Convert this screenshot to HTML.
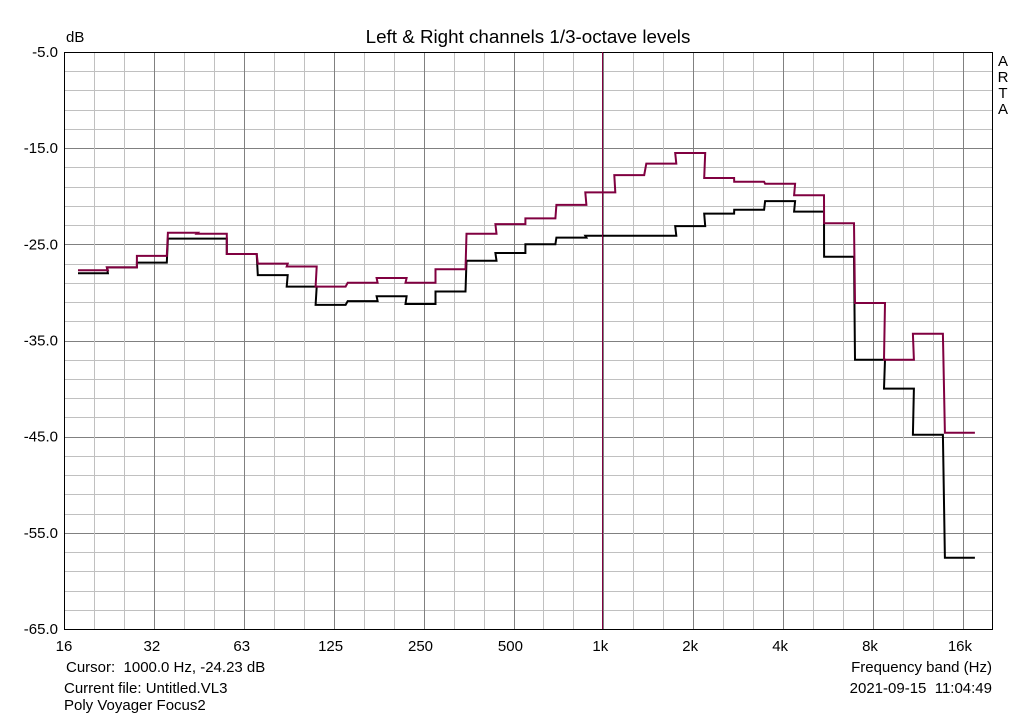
<!DOCTYPE html>
<html><head><meta charset="utf-8"><style>
body{margin:0;background:#fff;width:1024px;height:718px;overflow:hidden;font-family:"Liberation Sans",sans-serif}
svg text{font-family:"Liberation Sans",sans-serif;font-size:15px;fill:#000;white-space:pre}
</style></head><body>
<svg id="chart" width="1024" height="718" viewBox="0 0 1024 718">
<g id="grid"></g>
<g id="series"></g>
<rect x="64.5" y="52.5" width="928" height="577" fill="none" stroke="#000" stroke-width="1"/>
<line x1="602.5" y1="52" x2="602.5" y2="629" stroke="#800040" stroke-width="1"/>
<g id="labels"></g>
<text x="66" y="42">dB</text>
<text x="528" y="43" text-anchor="middle" style="font-size:18.8px">Left &amp; Right channels 1/3-octave levels</text>
<text x="1003" y="66" text-anchor="middle">A</text>
<text x="1003" y="82" text-anchor="middle">R</text>
<text x="1003" y="98" text-anchor="middle">T</text>
<text x="1003" y="114" text-anchor="middle">A</text>
<text x="66" y="672">Cursor:  1000.0 Hz, -24.23 dB</text>
<text x="64" y="693">Current file: Untitled.VL3</text>
<text x="64" y="710">Poly Voyager Focus2</text>
<text x="992" y="672" text-anchor="end">Frequency band (Hz)</text>
<text x="992" y="693" text-anchor="end">2021-09-15  11:04:49</text>
</svg>
<script>
const bands=[20,25,31.5,40,50,63,80,100,125,160,200,250,315,400,500,630,800,1000,1250,1600,2000,2500,3150,4000,5000,6300,8000,10000,12500,16000];
const leftDb=[-28.0,-27.4,-26.9,-24.4,-24.4,-26.0,-28.2,-29.4,-31.3,-30.9,-30.4,-31.2,-29.9,-26.7,-25.9,-25.0,-24.3,-24.1,-24.1,-24.1,-23.1,-21.8,-21.4,-20.5,-21.6,-26.3,-37.0,-40.0,-44.8,-57.6];
const rightDb=[-27.7,-27.4,-26.2,-23.8,-23.9,-26.0,-27.0,-27.3,-29.4,-29.0,-28.5,-29.0,-27.6,-23.9,-22.9,-22.3,-20.9,-19.6,-17.8,-16.6,-15.5,-18.1,-18.5,-18.7,-19.9,-22.8,-31.1,-37.0,-34.3,-44.6];
const yTicks=[-5,-15,-25,-35,-45,-55,-65];
const xTickFreqs=[16,31.5,63,125,250,500,1000,2000,4000,8000,16000];
const xTickLabels=["16","32","63","125","250","500","1k","2k","4k","8k","16k"];
const X0=64,OCT=89.9,Y0=52,PXDB=577/60;
const xs=f=>X0+Math.log2(f/16)*OCT;
const ys=d=>Y0+(-5-d)*PXDB;
const NS="http://www.w3.org/2000/svg";
const grid=document.getElementById('grid'),ser=document.getElementById('series'),lab=document.getElementById('labels');
function ln(p,x1,y1,x2,y2,c){const l=document.createElementNS(NS,'line');l.setAttribute('x1',x1);l.setAttribute('y1',y1);l.setAttribute('x2',x2);l.setAttribute('y2',y2);l.setAttribute('stroke',c);p.appendChild(l);return l;}
for(let d=-5;d>=-65;d-=2){const y=Math.round(ys(d))+0.5;const l=ln(grid,64,y,992,y,(d-(-5))%10===0?'#808080':'#c0c0c0');

}
for(let k=-1;k<=32;k++){const x=Math.round(X0+k*OCT/3)+0.5;if(x<=64||x>=992)continue;const l=ln(grid,x,52,x,629,k%3===0?'#808080':'#c0c0c0');

}
yTicks.forEach(d=>{const t=document.createElementNS(NS,'text');t.setAttribute('x',58);t.setAttribute('y',ys(d)+5);t.setAttribute('text-anchor','end');t.textContent=d.toFixed(1);

lab.appendChild(t);});
xTickFreqs.forEach((f,i)=>{const t=document.createElementNS(NS,'text');t.setAttribute('x',xs(f));t.setAttribute('y',651);t.setAttribute('text-anchor','middle');t.textContent=xTickLabels[i];

lab.appendChild(t);});
function steps(vals,color,name){let d='';vals.forEach((v,i)=>{const c=xs(bands[i]);const x1=c-OCT/6,x2=c+OCT/6,y=ys(v);d+=(i===0?'M':'L')+x1.toFixed(1)+','+y.toFixed(1)+'L'+x2.toFixed(1)+','+y.toFixed(1);});
const p=document.createElementNS(NS,'path');p.setAttribute('d',d);p.setAttribute('fill','none');p.setAttribute('stroke',color);p.setAttribute('stroke-width','2');

ser.appendChild(p);}
steps(leftDb,'#000','left-channel-line');
steps(rightDb,'#800040','right-channel-line');
</script>
</body></html>
